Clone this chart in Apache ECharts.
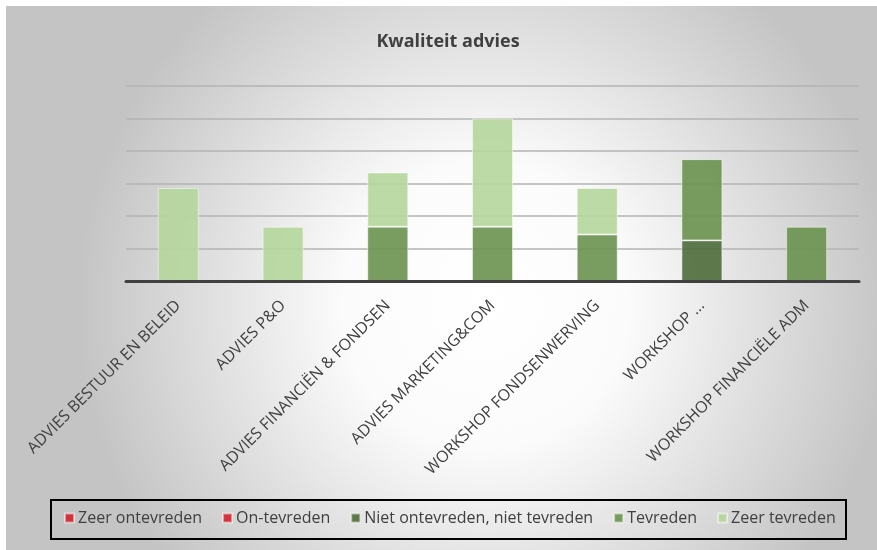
<!DOCTYPE html>
<html>
<head>
<meta charset="utf-8">
<script src="https://cdn.jsdelivr.net/npm/echarts@6/dist/echarts.min.js"></script>
<style>
html,body{margin:0;padding:0;background:#fff;}
#chart{position:absolute;left:6px;top:6px;width:871px;height:544px;}
</style>
</head>
<body>
<div id="chart"></div>
<script>
const categories = [
  'ADVIES BESTUUR EN BELEID',
  'ADVIES P&O',
  'ADVIES FINANCIËN & FONDSEN',
  'ADVIES MARKETING&COM',
  'WORKSHOP FONDSENWERVING',
  'WORKSHOP ...',
  'WORKSHOP FINANCIËLE ADM'
];
const seriesNames = ['Zeer ontevreden', 'On-tevreden', 'Niet ontevreden, niet tevreden', 'Tevreden', 'Zeer tevreden'];
const zeerOntevreden = [0, 0, 0, 0, 0, 0, 0];
const onTevreden     = [0, 0, 0, 0, 0, 0, 0];
const nietNiet       = [0, 0, 0, 0, 0, 12.5, 0];
const tevreden       = [0, 0, 16.7, 16.7, 14.3, 25, 16.7];
const zeerTevreden   = [28.6, 16.7, 16.7, 33.3, 14.3, 0, 0];
const yTicks = [0, 10, 20, 30, 40, 50, 60];

const colors = ['#d2232a', '#d2232a', '#4e6b3a', '#6a914f', '#b4d69c'];
const values = [zeerOntevreden, onTevreden, nietNiet, tevreden, zeerTevreden];

const chart = echarts.init(document.getElementById('chart'));
const font = '"Open Sans", "Noto Sans", sans-serif';

chart.setOption({
  backgroundColor: {
    type: 'radial', x: 0.55, y: 0.55, r: 0.75,
    colorStops: [
      { offset: 0, color: '#ffffff' },
      { offset: 0.35, color: '#fbfbfb' },
      { offset: 1, color: '#c4c4c4' }
    ]
  },
  animation: false,
  title: {
    text: 'Kwaliteit advies',
    left: 442, top: 27, textAlign: 'center', padding: 0,
    textStyle: { fontFamily: font, fontSize: 18, fontWeight: 'bold', color: '#404040' }
  },
  legend: {
    data: seriesNames,
    left: 58, top: 504, padding: 0,
    itemWidth: 9, itemHeight: 9, itemGap: 20,
    icon: 'rect',
    textStyle: { fontFamily: font, fontSize: 16, color: '#404040', padding: [0, 0, 0, -1] }
  },
  graphic: [{
    type: 'rect', left: 44, top: 493,
    shape: { width: 795, height: 39 },
    style: { fill: 'rgba(0,0,0,0)', stroke: '#000', lineWidth: 2 },
    z: 10
  }],
  grid: { left: 120, right: 18, top: 80, bottom: 269, containLabel: false },
  xAxis: {
    type: 'category', data: categories, z: 5,
    axisLine: { lineStyle: { color: '#404040', width: 3 } },
    axisTick: { show: false },
    axisLabel: {
      interval: 0, rotate: 45, margin: 22,
      fontFamily: font, fontSize: 16, color: '#404040'
    }
  },
  yAxis: {
    type: 'value', min: yTicks[0], max: yTicks[yTicks.length - 1], interval: yTicks[1] - yTicks[0],
    axisLabel: { show: false }, axisLine: { show: false }, axisTick: { show: false },
    splitLine: { lineStyle: { color: '#b3b3b3', width: 1.5 } }
  },
  series: seriesNames.map((name, i) => ({
    name: name, type: 'bar', stack: 'total', barWidth: 41,
    data: values[i].map(v => v === 0 ? '-' : v),
    itemStyle: {
      color: colors[i], opacity: 0.9,
      borderColor: 'rgba(255,255,255,0.55)', borderWidth: 1
    },
    emphasis: { disabled: true }
  }))
});
</script>
</body>
</html>
